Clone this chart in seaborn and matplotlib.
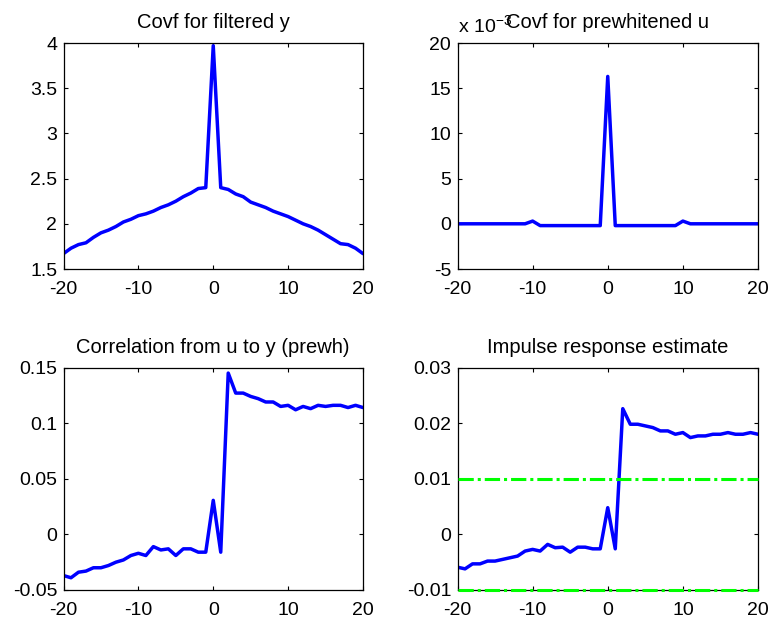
import numpy as np
import pandas as pd
import matplotlib
matplotlib.use("Agg")
import matplotlib.pyplot as plt
import seaborn as sns

# lags -20..20
lags = list(range(-20, 21))

# covf for filtered y
covf_y = [1.67, 1.73, 1.77, 1.79, 1.85, 1.90, 1.93, 1.97, 2.02, 2.05,
          2.09, 2.11, 2.14, 2.18, 2.21, 2.25, 2.30, 2.34, 2.39, 2.40,
          3.97,
          2.40, 2.38, 2.33, 2.30, 2.24, 2.21, 2.18, 2.14, 2.11, 2.08,
          2.04, 2.00, 1.97, 1.93, 1.88, 1.83, 1.78, 1.77, 1.73, 1.67]

# covf for prewhitened u, in units of 1e-3
covf_u = [0.0, 0.0, 0.0, 0.0, 0.0, 0.0, 0.0, 0.0, 0.0, 0.0,
          0.3, -0.2, -0.2, -0.2, -0.2, -0.2, -0.2, -0.2, -0.2, -0.2,
          16.3,
          -0.2, -0.2, -0.2, -0.2, -0.2, -0.2, -0.2, -0.2, -0.2, 0.3,
          0.0, 0.0, 0.0, 0.0, 0.0, 0.0, 0.0, 0.0, 0.0, 0.0]

# correlation from u to y (prewhitened)
corr_uy = [-0.037, -0.039, -0.034, -0.033, -0.030, -0.030, -0.028, -0.025, -0.023, -0.019,
           -0.017, -0.019, -0.011, -0.014, -0.013, -0.019, -0.013, -0.013, -0.016, -0.016,
           0.0306,
           -0.016, 0.145, 0.127, 0.127, 0.124, 0.122, 0.119, 0.119, 0.115, 0.116,
           0.112, 0.115, 0.113, 0.116, 0.115, 0.116, 0.116, 0.114, 0.116, 0.114]

# impulse response estimate
impulse = [-0.0059, -0.0062, -0.0053, -0.0053, -0.0048, -0.0048, -0.0045, -0.0042, -0.0039, -0.0030,
           -0.0027, -0.0030, -0.0018, -0.0024, -0.0023, -0.0032, -0.0023, -0.0023, -0.0026, -0.0026,
           0.0048,
           -0.0026, 0.0226, 0.0198, 0.0198, 0.0195, 0.0192, 0.0186, 0.0186, 0.0180, 0.0183,
           0.0174, 0.0177, 0.0177, 0.0180, 0.0180, 0.0183, 0.0180, 0.0180, 0.0183, 0.0180]

conf_level = 0.01

sns.set_style("ticks")
plt.rcParams["font.family"] = ["Liberation Sans", "DejaVu Sans"]
plt.rcParams["text.color"] = "black"
plt.rcParams["xtick.color"] = "black"
plt.rcParams["ytick.color"] = "black"
plt.rcParams["axes.labelcolor"] = "black"
plt.rcParams["xtick.direction"] = "in"
plt.rcParams["ytick.direction"] = "in"
plt.rcParams["xtick.major.size"] = 3
plt.rcParams["ytick.major.size"] = 3
plt.rcParams["axes.linewidth"] = 0.9

W, H = 772, 620
fig = plt.figure(figsize=(7.72, 6.2), dpi=100)


def box(l, t, r, b):
    return [l / W, 1 - b / H, (r - l) / W, (b - t) / H]


ax_tl = fig.add_axes(box(63.5, 43, 363, 269))
ax_tr = fig.add_axes(box(457.5, 43, 758, 269))
ax_bl = fig.add_axes(box(63.5, 367.5, 363, 590))
ax_br = fig.add_axes(box(457.5, 367.5, 758, 590))

panels = [
    (ax_tl, covf_y, "Covf for filtered y", (1.5, 4), [1.5, 2, 2.5, 3, 3.5, 4], ["1.5", "2", "2.5", "3", "3.5", "4"]),
    (ax_tr, covf_u, "Covf for prewhitened u", (-5, 20), [-5, 0, 5, 10, 15, 20], ["-5", "0", "5", "10", "15", "20"]),
    (ax_bl, corr_uy, "Correlation from u to y (prewh)", (-0.05, 0.15), [-0.05, 0, 0.05, 0.1, 0.15], ["-0.05", "0", "0.05", "0.1", "0.15"]),
    (ax_br, impulse, "Impulse response estimate", (-0.01, 0.03), [-0.01, 0, 0.01, 0.02, 0.03], ["-0.01", "0", "0.01", "0.02", "0.03"]),
]

for ax, vals, title, ylim, yt, ytl in panels:
    df = pd.DataFrame({"lag": lags, "val": vals})
    sns.lineplot(data=df, x="lag", y="val", ax=ax, color="#0000FF", linewidth=2.5)
    ax.set_xlim(-20, 20)
    ax.set_ylim(*ylim)
    ax.set_xticks([-20, -10, 0, 10, 20])
    ax.set_xticklabels(["-20", "-10", "0", "10", "20"])
    ax.set_yticks(yt)
    ax.set_yticklabels(ytl)
    ax.set_xlabel("")
    ax.set_ylabel("")
    ax.set_title(title, fontsize=14.5, pad=10.5, color="black")
    ax.tick_params(top=True, right=True, labelsize=14, width=0.8)
    ax.tick_params(axis="x", pad=8.5)
    ax.tick_params(axis="y", pad=4.5)
    for s in ax.spines.values():
        s.set_visible(True)
        s.set_color("black")

# confidence band on impulse response
for lvl in [conf_level, -conf_level]:
    ax_br.axhline(lvl, color="#00FF00", linestyle=(0, (5, 1.3, 1, 1.3)),
                  linewidth=2.2, zorder=3, clip_on=False)

# exponent label of the prewhitened u axis
ax_tr.text(0.0, 1.025, r"x 10$^{\mathregular{-3}}$", transform=ax_tr.transAxes,
           fontsize=14, ha="left", va="bottom")

fig.savefig("out.png", dpi=100)
